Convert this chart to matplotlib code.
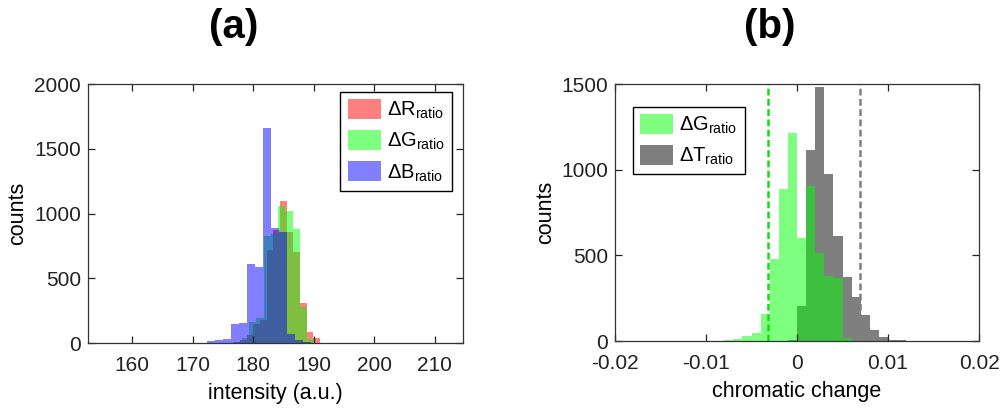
import numpy as np
import matplotlib.pyplot as plt

plt.rcParams['font.family'] = 'Liberation Sans'
plt.rcParams['mathtext.fontset'] = 'custom'
plt.rcParams['mathtext.rm'] = 'Liberation Sans'
plt.rcParams['mathtext.it'] = 'Liberation Sans:italic'
plt.rcParams['mathtext.bf'] = 'Liberation Sans:bold'

# (a) intensity histograms, one set of bins per channel
r_start, r_width = 176.75, 1.1
r_counts = [5, 20, 60, 150, 180, 720, 870, 1100, 860, 700, 306, 88, 36]
g_start, g_width = 176.95, 1.2
g_counts = [10, 40, 165, 190, 830, 845, 1060, 1020, 880, 280, 30]
b_start, b_width = 172.44, 1.32
b_counts = [15, 20, 30, 147, 152, 607, 589, 1658, 890, 860, 70, 20, 5]

# (b) chromatic change histograms
dg_start, dt_start, chrom_width = -0.008, -0.001, 0.001
dg_counts = [5, 12, 29, 45, 156, 478, 887, 1212, 600, 905, 512, 380, 370, 15]
dt_counts = [3, 204, 1115, 1481, 975, 610, 372, 255, 150, 65, 22, 8, 3]
dg_limit = -0.0032
dt_limit = 0.0069

a_xticks = [160, 170, 180, 190, 200, 210]
a_yticks = [0, 500, 1000, 1500, 2000]
b_xticks = [-0.02, -0.01, 0, 0.01, 0.02]
b_xlabels = ['-0.02', '-0.01', '0', '0.01', '0.02']
b_yticks = [0, 500, 1000, 1500]


def edges(start, width, counts):
    return start + width * np.arange(len(counts) + 1)


def style(ax):
    ax.tick_params(direction='in', top=True, right=True, length=5, width=0.9,
                   labelsize=15, colors='#222222')
    ax.tick_params(axis='x', pad=9)
    ax.tick_params(axis='y', pad=5)
    for s in ax.spines.values():
        s.set_linewidth(0.9)
        s.set_color('#333333')


def add_legend(ax, handles, labels, **kw):
    leg = ax.legend(handles, labels, borderaxespad=0, fontsize=14.5,
                    fancybox=False, edgecolor='black', framealpha=1,
                    handlelength=1.65, handleheight=1.15, handletextpad=0.3,
                    labelspacing=0.45, borderpad=0.35, **kw)
    leg.get_frame().set_linewidth(1.0)
    return leg


fig = plt.figure(figsize=(10.03, 4.08), dpi=100)
ax1 = fig.add_axes([0.0877, 0.1593, 0.3739, 0.6348])
ax2 = fig.add_axes([0.6132, 0.1642, 0.3629, 0.6299])

hr = ax1.stairs(r_counts, edges(r_start, r_width, r_counts), fill=True,
                color=(1, 0, 0), alpha=0.5, linewidth=0)
hg = ax1.stairs(g_counts, edges(g_start, g_width, g_counts), fill=True,
                color=(0, 1, 0), alpha=0.5, linewidth=0)
hb = ax1.stairs(b_counts, edges(b_start, b_width, b_counts), fill=True,
                color=(0, 0, 1), alpha=0.5, linewidth=0)
ax1.set_xlim(152.7, 214.7)
ax1.set_ylim(0, 2000)
ax1.set_xticks(a_xticks)
ax1.set_yticks(a_yticks)
ax1.set_xlabel('intensity (a.u.)', fontsize=15.5, labelpad=6)
ax1.set_ylabel('counts', fontsize=15.5, labelpad=4)
style(ax1)
add_legend(ax1, [hr, hg, hb],
           ['ΔR$_{\\mathrm{ratio}}$', 'ΔG$_{\\mathrm{ratio}}$', 'ΔB$_{\\mathrm{ratio}}$'],
           loc='upper right', bbox_to_anchor=(0.9707, 0.969))

ht = ax2.stairs(dt_counts, edges(dt_start, chrom_width, dt_counts), fill=True,
                color='k', alpha=0.5, linewidth=0)
hdg = ax2.stairs(dg_counts, edges(dg_start, chrom_width, dg_counts), fill=True,
                 color=(0, 1, 0), alpha=0.5, linewidth=0)
ax2.axvline(dg_limit, color='#11dd11', linewidth=1.8, linestyle=(0, (2.7, 1.4)))
ax2.axvline(dt_limit, color='#808080', linewidth=1.8, linestyle=(0, (2.7, 1.4)))
ax2.set_xlim(-0.02, 0.02)
ax2.set_ylim(0, 1500)
ax2.set_xticks(b_xticks)
ax2.set_xticklabels(b_xlabels)
ax2.set_yticks(b_yticks)
ax2.set_xlabel('chromatic change', fontsize=15.5, labelpad=6)
ax2.set_ylabel('counts', fontsize=15.5, labelpad=4)
style(ax2)
add_legend(ax2, [hdg, ht], ['ΔG$_{\\mathrm{ratio}}$', 'ΔT$_{\\mathrm{ratio}}$'],
           loc='upper left', bbox_to_anchor=(0.0495, 0.9105))

fig.text(0.2333, 0.934, '(a)', ha='center', va='center', fontsize=29, fontweight='bold')
fig.text(0.7677, 0.934, '(b)', ha='center', va='center', fontsize=29, fontweight='bold')

fig.savefig('out.png', dpi=100)
